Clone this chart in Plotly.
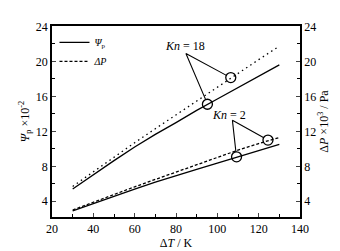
import plotly.graph_objects as go

# Data
dT = [30, 40, 50, 60, 70, 80, 90, 100, 110, 120, 130]
psi_kn18 = [5.4, 7.05, 8.65, 10.2, 11.65, 13.0, 14.4, 15.7, 17.0, 18.3, 19.6]
dp_kn18 = [5.7, 7.4, 9.05, 10.7, 12.3, 13.9, 15.5, 17.1, 18.65, 20.2, 21.75]
psi_kn2 = [2.9, 3.75, 4.6, 5.4, 6.2, 6.95, 7.65, 8.35, 9.05, 9.8, 10.5]
dp_kn2 = [3.0, 3.9, 4.8, 5.65, 6.5, 7.35, 8.2, 9.05, 9.85, 10.6, 11.3]

# circle markers on the curves
circ_x = [95.2, 106.5, 109.3, 124.5]
circ_y = [15.1, 18.15, 9.08, 11.0]

# leader lines (apex -> circle edge)
kn18_label = "<i>Kn</i> = 18"
kn18_label_pos = (84.4, 21.8)
kn18_leader_x = [94.4, 84.8, 104.4]
kn18_leader_y = [15.6, 20.9, 18.4]
kn2_label = "<i>Kn</i> = 2"
kn2_label_pos = (105.6, 13.9)
kn2_leader_x = [109.0, 107.3, 122.5]
kn2_leader_y = [9.63, 13.26, 11.27]

x_ticks = [20, 40, 60, 80, 100, 120, 140]
y_ticks = [4, 8, 12, 16, 20, 24]

FONT = "Liberation Serif"
LW = 1.3

fig = go.Figure()
fig.add_trace(go.Scatter(x=dT, y=psi_kn18, mode="lines", name="<i>Ψ</i><sub>p</sub>",
                         line=dict(color="black", width=LW), showlegend=True))
fig.add_trace(go.Scatter(x=dT, y=dp_kn18, mode="lines", name="dp18",
                         line=dict(color="black", width=LW, dash="1.5px,3.5px"), showlegend=False))
fig.add_trace(go.Scatter(x=dT, y=psi_kn2, mode="lines", name="psi2",
                         line=dict(color="black", width=LW), showlegend=False))
fig.add_trace(go.Scatter(x=dT, y=dp_kn2, mode="lines", name="<i>ΔP</i>",
                         line=dict(color="black", width=LW, dash="3px,2px"), showlegend=True))
fig.add_trace(go.Scatter(x=circ_x, y=circ_y, mode="markers", showlegend=False,
                         marker=dict(symbol="circle-open", size=10, color="black",
                                     line=dict(width=1.3, color="black"))))
fig.add_trace(go.Scatter(x=kn18_leader_x, y=kn18_leader_y, mode="lines", showlegend=False,
                         line=dict(color="black", width=1.1)))
fig.add_trace(go.Scatter(x=kn2_leader_x, y=kn2_leader_y, mode="lines", showlegend=False,
                         line=dict(color="black", width=1.1)))
# invisible trace to activate the right axis
fig.add_trace(go.Scatter(x=[dT[0]], y=[dp_kn2[0]], yaxis="y2", mode="markers",
                         marker=dict(opacity=0), showlegend=False, hoverinfo="skip"))

fig.add_annotation(x=kn18_label_pos[0], y=kn18_label_pos[1], text=kn18_label, showarrow=False,
                   font=dict(family=FONT, size=12, color="black"))
fig.add_annotation(x=kn2_label_pos[0], y=kn2_label_pos[1], text=kn2_label, showarrow=False,
                   font=dict(family=FONT, size=12, color="black"))

yr = [2.2, 24.05]
fig.update_layout(
    width=340, height=251,
    margin=dict(l=44, r=47.5, t=16.5, b=34.3),
    paper_bgcolor="white", plot_bgcolor="white",
    font=dict(family=FONT, size=12, color="black"),
    showlegend=True,
    legend=dict(x=0.01, y=0.99, xanchor="left", yanchor="top", bgcolor="rgba(0,0,0,0)",
                font=dict(family=FONT, size=10), itemwidth=30, tracegroupgap=0),
    xaxis=dict(range=[20, 140], tickvals=x_ticks, ticks="inside", ticklen=4, tickwidth=1,
               showline=True, linecolor="black", linewidth=1.5, mirror=True, showgrid=False,
               zeroline=False, tickfont=dict(size=12),
               minor=dict(dtick=10, ticks="inside", ticklen=3, tickcolor="black"),
               title=dict(text="Δ<i>T</i> / K", font=dict(size=12), standoff=2)),
    yaxis=dict(range=yr, tickvals=y_ticks, ticks="inside", ticklen=4, tickwidth=1,
               showline=True, linecolor="black", linewidth=1.5, showgrid=False, zeroline=False,
               tickfont=dict(size=12),
               minor=dict(tickvals=[6, 10, 14, 18, 22], ticks="inside", ticklen=3, tickcolor="black"),
               title=dict(text="<i>Ψ</i><sub>p</sub> ×10<sup>-2</sup>", font=dict(size=12), standoff=4)),
    yaxis2=dict(range=yr, tickvals=y_ticks, ticks="inside", ticklen=4, tickwidth=1,
                overlaying="y", side="right", showline=True, linecolor="black", linewidth=1.5,
                showgrid=False, zeroline=False, tickfont=dict(size=12),
                minor=dict(tickvals=[6, 10, 14, 18, 22], ticks="inside", ticklen=3, tickcolor="black"),
                title=dict(text="Δ<i>P</i> ×10<sup>3</sup> / Pa", font=dict(size=12), standoff=4)),
)

fig.write_html("out.html")
